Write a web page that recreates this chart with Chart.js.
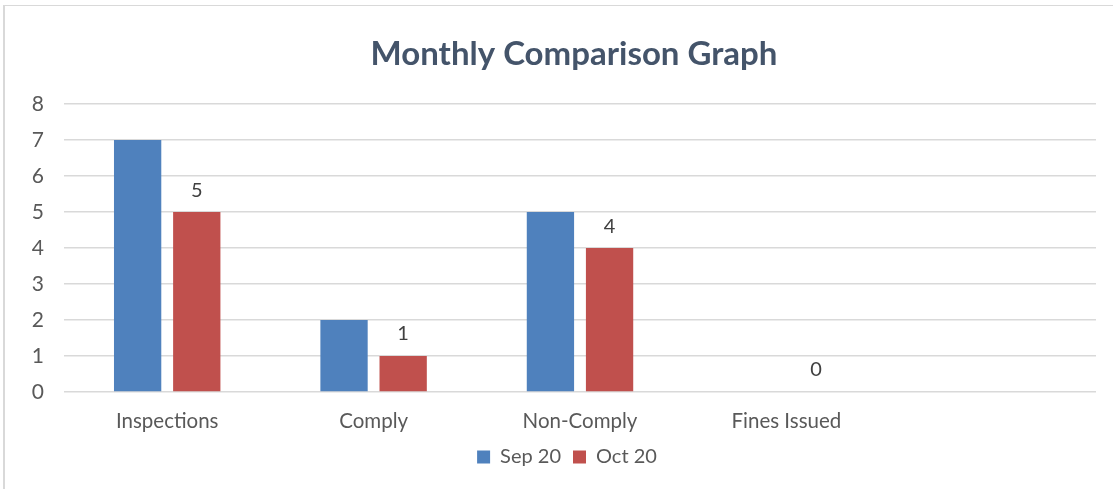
<!DOCTYPE html>
<html>
<head>
<meta charset="utf-8">
<script src="https://cdn.jsdelivr.net/npm/chart.js@4.4.1/dist/chart.umd.min.js"></script>
<style>
  html, body { margin: 0; padding: 0; background: #ffffff; }
  #wrap { position: relative; width: 1113px; height: 489px; overflow: hidden; }
  #frame { position: absolute; left: 3px; top: 5px; width: 1200px; height: 600px;
           border-left: 2px solid #d9d9d9; border-top: 1px solid #d9d9d9; box-sizing: border-box; }
  #c { position: absolute; left: 0; top: 0; }
</style>
</head>
<body>
<div id="wrap">
  <div id="frame"></div>
  <canvas id="c" width="1113" height="489"></canvas>
</div>
<script>
const categories = ['Inspections', 'Comply', 'Non-Comply', 'Fines Issued', ''];
const sep20 = [7, 2, 5, 0, null];
const oct20 = [5, 1, 4, 0, null];
const yTicks = [0, 1, 2, 3, 4, 5, 6, 7, 8];

const FONT = "Lato, 'Open Sans', sans-serif";

const valueLabels = {
  id: 'valueLabels',
  afterDatasetsDraw(chart) {
    const ctx = chart.ctx;
    const meta = chart.getDatasetMeta(1);
    ctx.save();
    ctx.font = "20px " + FONT;
    ctx.fillStyle = '#404040';
    ctx.textAlign = 'center';
    ctx.textBaseline = 'middle';
    meta.data.forEach((el, i) => {
      const v = chart.data.datasets[1].data[i];
      if (v === null || v === undefined) return;
      ctx.fillText(String(v), el.x, el.y - 22);
    });
    ctx.restore();
  }
};

const boxShift = {
  id: 'boxShift',
  afterLayout(chart) {
    chart.legend.left += 19;
    chart.legend.right += 19;
    chart.titleBlock.left += 26;
    chart.titleBlock.right += 26;
  }
};

new Chart(document.getElementById('c'), {
  type: 'bar',
  data: {
    labels: categories,
    datasets: [
      { label: 'Sep 20', data: sep20, backgroundColor: '#4F81BD', categoryPercentage: 0.573, barPercentage: 0.8 },
      { label: 'Oct 20', data: oct20, backgroundColor: '#C0504D', categoryPercentage: 0.573, barPercentage: 0.8 }
    ]
  },
  options: {
    responsive: false,
    animation: false,
    layout: { padding: { left: 0, right: 17, top: 0, bottom: 12 } },
    plugins: {
      title: {
        display: true,
        text: 'Monthly Comparison Graph',
        color: '#44546A',
        font: { family: FONT, size: 33, weight: 'bold' },
        padding: { top: 35, bottom: 29.5 }
      },
      legend: {
        position: 'bottom',
        labels: {
          boxWidth: 13, boxHeight: 13,
          color: '#595959',
          font: { family: FONT, size: 20 },
          padding: 12
        }
      },
      tooltip: { enabled: false }
    },
    scales: {
      x: {
        grid: { display: false, drawTicks: false },
        border: { display: false },
        ticks: { color: '#595959', font: { family: FONT, size: 20.5 }, padding: 17, maxRotation: 0 },
        afterFit(s) { s.height = 43; }
      },
      y: {
        min: 0, max: 8,
        afterBuildTicks(s) { s.ticks = yTicks.map(v => ({ value: v })); },
        grid: { color: '#d9d9d9', lineWidth: 1.5, drawTicks: false },
        border: { display: false },
        ticks: { color: '#595959', font: { family: FONT, size: 21 }, padding: 20 },
        afterFit(s) { s.width = 64; }
      }
    }
  },
  plugins: [valueLabels, boxShift]
});
</script>
</body>
</html>
